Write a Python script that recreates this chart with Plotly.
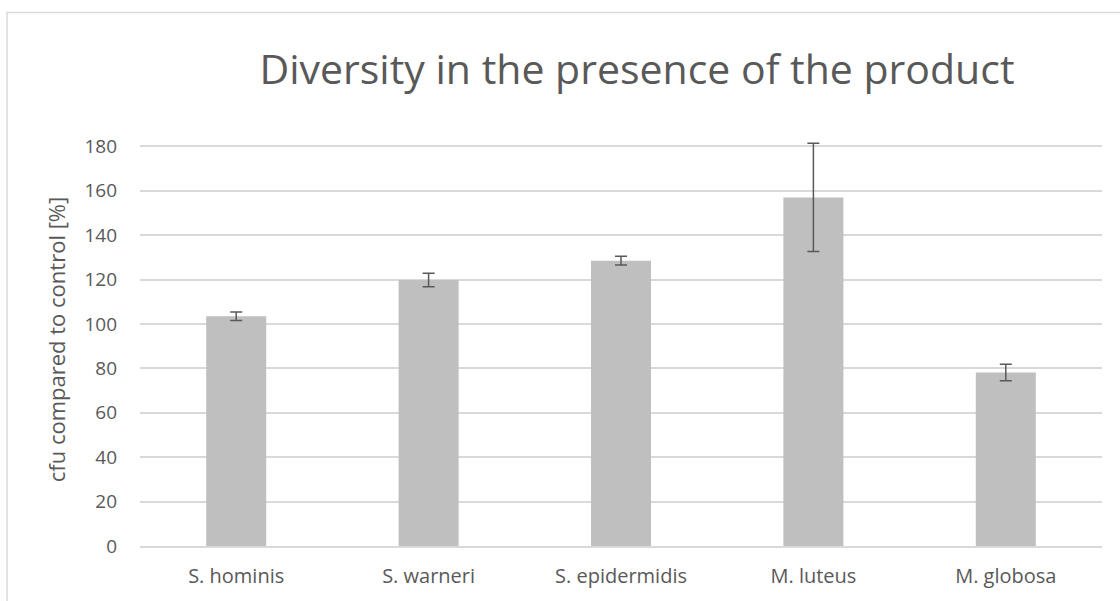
import plotly.graph_objects as go

categories = ["S. hominis", "S. warneri", "S. epidermidis", "M. luteus", "M. globosa"]
values = [103.5, 119.8, 128.5, 157.0, 78.1]
errors = [1.9, 3.0, 2.0, 24.4, 3.7]
y_ticks = [0, 20, 40, 60, 80, 100, 120, 140, 160, 180]

W, H = 1120, 601
Y_MAX_GRID = 180
Y_TOP = 186
PX_PER_UNIT = 400 / 180
L, R, B = 140, 17.5, 55
T = 146 - (Y_TOP - Y_MAX_GRID) * PX_PER_UNIT

fig = go.Figure()
fig.add_trace(go.Bar(
    x=categories, y=values,
    marker=dict(color="#bfbfbf", line=dict(width=0)),
    width=0.312,
    cliponaxis=False,
    error_y=dict(type="data", array=errors, visible=True,
                 color="#595959", thickness=1.5, width=6),
))

font_family = "Open Sans, Noto Sans, sans-serif"
fig.update_layout(
    width=W, height=H,
    margin=dict(l=L, r=R, t=T, b=B, pad=0),
    paper_bgcolor="white", plot_bgcolor="white",
    showlegend=False,
    font=dict(family=font_family, color="#595959", size=19),
    title=dict(text="Diversity in the presence of the product",
               x=637 / W, xanchor="center", xref="container",
               y=1 - 70 / H, yanchor="middle", yref="container",
               font=dict(size=41, color="#595959", family=font_family)),
    xaxis=dict(showgrid=False, showline=True, linecolor="#d9d9d9", linewidth=1.5,
               ticks="", tickfont=dict(size=20, color="#595959"),
               ticklabelstandoff=11),
    yaxis=dict(range=[0, Y_TOP], tickvals=y_ticks, showgrid=True,
               gridcolor="#d9d9d9", gridwidth=1.5, zeroline=False,
               showline=False, ticks="", tickfont=dict(size=19, color="#595959"),
               ticklabelstandoff=22,
               title=dict(text="cfu compared to control [%]",
                          font=dict(size=22, color="#595959"), standoff=12)),
    shapes=[dict(type="rect", xref="paper", yref="paper",
                 x0=(7 - L) / (W - L - R), x1=(W + 20 - L) / (W - L - R),
                 y0=(H - B - (H + 20)) / (H - T - B), y1=(H - B - 12) / (H - T - B),
                 line=dict(color="#d9d9d9", width=1.5), layer="below")],
)

fig.write_html("out.html", post_script="document.body.style.margin='0';",
               config={"displayModeBar": False})
